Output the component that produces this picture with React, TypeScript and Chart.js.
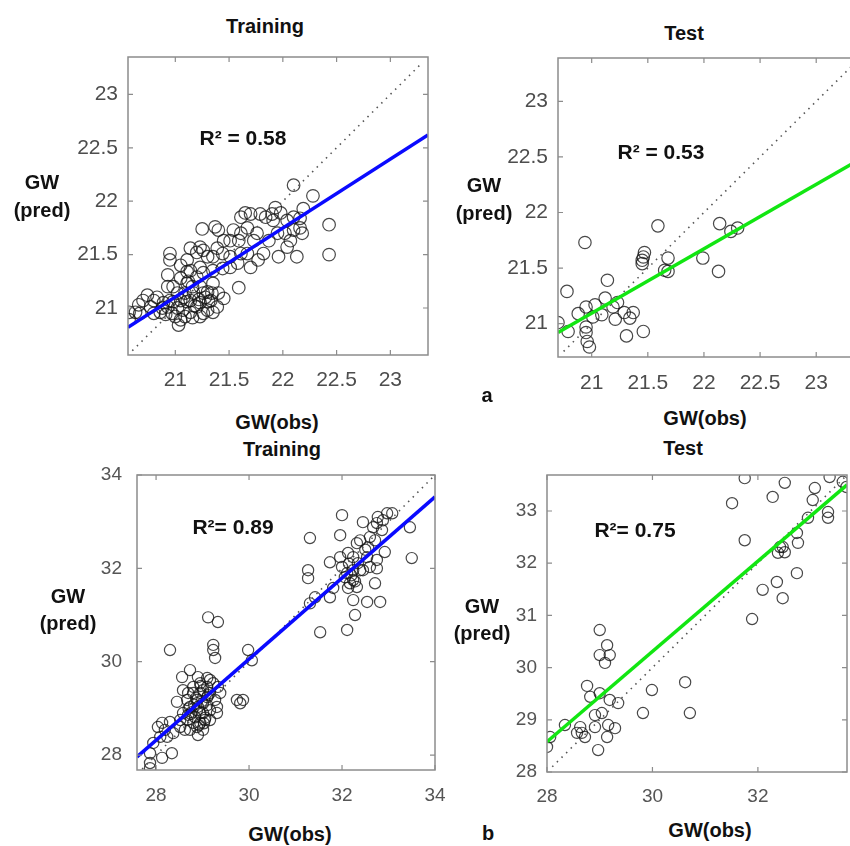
import React, { useEffect, useRef } from "react";
import { Chart, registerables } from "chart.js";

Chart.register(...registerables);

// ---------- Panel a: Training ----------
const P1_OBS = [22.10, 22.28, 22.43, 22.43, 22.19, 22.16, 22.18, 22.13, 22.07, 22.04, 21.96, 21.98, 21.93, 21.90, 21.84, 21.79, 21.76, 21.82, 21.77, 21.70, 21.70, 21.65, 21.67, 21.61, 21.59, 21.54, 21.58, 21.51, 21.59, 21.45, 21.40, 21.39, 21.44, 21.35, 21.37, 21.25, 21.23, 21.20, 21.26, 21.30, 21.14, 21.23, 21.14, 20.95, 20.95, 20.93, 21.05, 21.11, 20.98, 21.35, 21.45, 21.26, 21.17, 21.33, 21.23, 21.30, 21.35, 21.23, 21.14, 21.11, 21.05, 21.07, 21.05, 21.03, 20.97, 20.93, 20.95, 20.89, 20.86, 20.83, 20.80, 20.77, 20.74, 20.70, 20.66, 20.63, 20.57, 20.57, 20.67, 20.80, 20.98, 21.09, 21.16, 21.23, 21.30, 21.34, 21.26, 21.20, 21.11, 21.02, 21.14, 21.20, 21.26, 21.16, 21.09, 21.00, 20.91, 21.31, 21.39, 21.40, 21.51, 21.73, 21.67, 21.87, 21.95, 22.02, 22.10, 22.16, 21.91, 22.04, 22.10, 21.61, 21.51, 21.61, 21.44, 21.35, 21.11, 21.05, 20.93, 21.02, 21.08, 21.18, 21.28, 20.88, 21.12, 21.22];
const P1_PRED = [22.15, 22.05, 21.78, 21.50, 21.93, 21.84, 21.70, 21.48, 21.63, 21.57, 21.48, 21.89, 21.94, 21.88, 21.85, 21.88, 21.70, 21.51, 21.45, 21.38, 21.88, 21.89, 21.75, 21.70, 21.63, 21.73, 21.42, 21.38, 21.19, 21.63, 21.73, 21.56, 21.51, 21.48, 21.76, 21.74, 21.57, 21.52, 21.54, 21.48, 21.56, 21.38, 21.35, 21.51, 21.45, 21.31, 21.28, 21.23, 21.20, 21.23, 21.09, 21.14, 21.14, 21.07, 21.05, 20.98, 20.96, 20.92, 20.96, 21.06, 21.07, 20.98, 20.89, 20.84, 20.95, 21.01, 21.07, 21.05, 20.96, 21.10, 21.07, 21.01, 21.12, 21.07, 21.03, 20.96, 20.96, 20.89, 20.95, 20.95, 21.06, 21.14, 21.20, 21.20, 21.15, 21.14, 21.33, 21.29, 21.34, 21.14, 21.07, 21.01, 20.95, 20.91, 20.92, 20.92, 20.94, 21.06, 21.01, 21.14, 21.63, 21.63, 21.51, 21.63, 21.70, 21.70, 21.73, 21.75, 21.82, 21.82, 21.85, 21.85, 21.48, 21.51, 21.37, 21.35, 21.45, 21.40, 21.20, 21.00, 21.10, 21.02, 21.10, 21.00, 21.25, 21.08];
const P1_FIT_X = [20.56, 23.35];
const P1_FIT_Y = [20.82, 22.62];
const P1_TICKS = [21, 21.5, 22, 22.5, 23];

// ---------- Panel a: Test ----------
const P2_OBS = [20.70, 20.78, 20.79, 20.94, 20.88, 20.95, 20.95, 20.95, 20.96, 20.98, 21.03, 21.01, 21.09, 21.12, 21.14, 21.19, 21.21, 21.23, 21.29, 21.34, 21.37, 21.31, 21.46, 21.45, 21.46, 21.47, 21.45, 21.59, 21.68, 21.65, 21.68, 21.99, 22.13, 22.14, 22.24, 22.30];
const P2_PRED = [21.01, 21.29, 20.93, 21.73, 21.09, 21.15, 20.97, 20.92, 20.84, 20.79, 21.17, 21.06, 21.08, 21.23, 21.39, 21.15, 21.04, 21.19, 21.10, 21.05, 21.10, 20.89, 20.93, 21.54, 21.60, 21.64, 21.57, 21.88, 21.59, 21.48, 21.47, 21.59, 21.47, 21.90, 21.83, 21.86];
const P2_FIT_X = [20.70, 23.39];
const P2_FIT_Y = [20.92, 22.48];
const P2_TICKS = [21, 21.5, 22, 22.5, 23];

// ---------- Panel b: Training ----------
const P3_OBS = [32.00, 31.31, 31.27, 31.27, 31.31, 31.42, 31.53, 31.74, 31.74, 31.96, 31.96, 32.00, 32.06, 32.11, 32.24, 32.28, 32.17, 32.24, 32.13, 32.24, 32.32, 32.39, 32.45, 32.34, 32.45, 32.54, 32.56, 32.60, 32.67, 32.75, 32.77, 32.88, 32.97, 33.08, 32.86, 32.71, 32.92, 32.75, 32.75, 32.71, 32.54, 32.82, 33.46, 33.50, 32.39, 32.24, 32.11, 32.13, 32.32, 31.81, 32.60, 32.20, 32.28, 32.50, 32.15,
  29.12, 29.33, 29.23, 29.23, 29.27, 28.30, 29.98, 30.06, 28.73, 29.74, 29.87, 29.81, 29.38, 28.45, 28.30, 28.13, 28.04, 28.09, 28.24, 27.94, 27.87, 28.13, 28.34, 27.87, 27.87, 28.56, 28.58, 28.69, 28.80, 28.95, 29.10, 29.23, 28.95, 29.10, 28.88, 29.01, 28.73, 28.88, 29.01, 29.16, 28.58, 28.67, 28.80, 28.95, 29.16, 28.73, 28.90, 28.52, 29.31, 29.31, 28.84, 29.05, 28.67, 28.80, 29.01, 29.16, 28.90, 29.10, 28.77, 28.95, 28.69, 28.52, 28.88, 29.01, 28.62, 29.27, 29.33, 28.90, 29.10, 28.37, 28.19, 29.16,
  28.82, 28.98, 29.06, 28.75, 28.92, 29.12, 28.86, 29.03, 28.70, 28.96];
const P3_PRED = [33.14, 32.65, 31.96, 31.79, 31.25, 31.38, 30.63, 31.38, 32.13, 32.71, 32.24, 32.03, 31.81, 30.68, 31.32, 31.00, 31.68, 31.75, 32.33, 32.24, 32.54, 32.60, 32.99, 32.11, 31.96, 32.24, 32.45, 32.67, 32.88, 32.97, 33.10, 33.03, 33.18, 33.18, 32.82, 32.60, 32.35, 32.18, 32.00, 31.68, 31.28, 31.28, 32.88, 32.22, 31.96, 31.96, 31.90, 31.58, 31.60, 31.58, 32.03, 31.85, 31.72, 32.40, 32.10,
  30.95, 30.85, 30.36, 30.25, 30.08, 30.25, 30.25, 30.03, 29.82, 29.18, 29.18, 29.11, 29.33, 29.14, 28.71, 28.69, 28.60, 28.39, 28.39, 28.26, 28.04, 27.94, 28.04, 27.83, 27.72, 29.67, 29.39, 29.33, 29.46, 29.54, 29.46, 29.54, 29.33, 29.24, 29.18, 29.11, 29.03, 28.96, 28.90, 28.96, 28.90, 28.75, 28.69, 28.69, 28.75, 28.54, 28.43, 28.60, 29.03, 28.90, 28.81, 28.75, 29.18, 29.33, 29.39, 29.33, 29.03, 29.07, 28.92, 28.90, 28.86, 28.75, 28.60, 28.54, 28.54, 29.18, 29.46, 29.67, 29.65, 28.47, 28.54, 29.61,
  29.08, 29.15, 28.80, 28.88, 28.64, 29.28, 29.22, 28.68, 29.00, 29.48];
const P3_FIT_X = [27.59, 34.0];
const P3_FIT_Y = [27.96, 33.53];
const P3_TICKS = [28, 30, 32, 34];

// ---------- Panel b: Test ----------
const P4_OBS = [31.75, 32.51, 32.28, 31.51, 31.75, 33.36, 33.61, 33.68, 33.08, 33.04, 32.95, 33.33, 33.33, 32.74, 32.76, 32.42, 32.38, 32.51, 32.47, 32.74, 32.36, 32.09, 32.47, 31.89, 29.00, 29.14, 29.00, 29.19, 29.10, 28.76, 28.82, 29.00, 29.19, 29.35, 29.99, 30.62, 30.71, 29.82, 28.34, 28.63, 28.66, 28.72, 28.91, 29.04, 28.91, 29.16, 29.29, 29.14, 28.97, 28.06, 28.00, 28.57];
const P4_PRED = [33.63, 33.54, 33.27, 33.15, 32.44, 33.65, 33.56, 33.46, 33.44, 33.21, 32.87, 32.98, 32.87, 32.58, 32.39, 32.31, 32.20, 32.21, 32.31, 31.81, 31.64, 31.49, 31.33, 30.93, 30.72, 30.43, 30.24, 30.24, 30.09, 29.65, 29.44, 29.51, 29.38, 29.32, 29.57, 29.72, 29.13, 29.13, 28.90, 28.86, 28.75, 28.67, 29.09, 29.13, 28.86, 28.90, 28.84, 28.67, 28.42, 28.67, 28.48, 28.75];
const P4_FIT_X = [28.0, 33.69];
const P4_FIT_Y = [28.58, 33.50];
const P4_TICKS_X = [28, 30, 32];
const P4_TICKS_Y = [28, 29, 30, 31, 32, 33];

type Spec = {
  obs: number[];
  pred: number[];
  fitX: number[];
  fitY: number[];
  xMin: number; xMax: number; yMin: number; yMax: number;
  idFrom: number; idTo: number;
  xTicks: number[]; yTicks: number[];
  lineColor: string;
  radius: number;
  canvasLeft: number; canvasTop: number; canvasW: number; canvasH: number;
  yAxisW: number; xAxisH: number; padTop: number; padRight: number;
  tickFont: { family: string; size: number };
  tickColor: string;
  xPad: number; yPad: number;
};

const boxPlugin = {
  id: "matlabBox",
  afterDatasetsDraw(chart: any) {
    const { ctx, chartArea } = chart;
    const { left, right, top, bottom } = chartArea;
    const xs = chart.scales.x;
    const ys = chart.scales.y;
    ctx.save();
    ctx.strokeStyle = "#8c8c8c";
    ctx.lineWidth = 1.5;
    ctx.strokeRect(left, top, right - left, bottom - top);
    ctx.lineWidth = 1.2;
    ctx.beginPath();
    for (const t of xs.ticks) {
      const px = xs.getPixelForValue(t.value);
      ctx.moveTo(px, bottom);
      ctx.lineTo(px, bottom - 5);
      ctx.moveTo(px, top);
      ctx.lineTo(px, top + 5);
    }
    for (const t of ys.ticks) {
      const py = ys.getPixelForValue(t.value);
      ctx.moveTo(left, py);
      ctx.lineTo(left + 5, py);
      ctx.moveTo(right, py);
      ctx.lineTo(right - 5, py);
    }
    ctx.stroke();
    ctx.restore();
  },
};

function Panel({ s }: { s: Spec }) {
  const ref = useRef<HTMLCanvasElement>(null);
  useEffect(() => {
    if (!ref.current) return;
    const chart = new Chart(ref.current, {
      type: "scatter",
      data: {
        datasets: [
          {
            data: s.fitX.map((x, i) => ({ x, y: s.fitY[i] })),
            showLine: true,
            borderColor: s.lineColor,
            borderWidth: 3.5,
            pointRadius: 0,
            order: 0,
          } as any,
          {
            data: [
              { x: s.idFrom, y: s.idFrom },
              { x: s.idTo, y: s.idTo },
            ],
            showLine: true,
            borderColor: "#555555",
            borderWidth: 1.6,
            borderDash: [1.5, 5],
            pointRadius: 0,
            order: 1,
          } as any,
          {
            data: s.obs.map((x, i) => ({ x, y: s.pred[i] })),
            pointStyle: "circle",
            pointRadius: s.radius,
            backgroundColor: "rgba(0,0,0,0)",
            borderColor: "rgba(20,20,20,0.78)",
            borderWidth: 1.2,
            order: 2,
          } as any,
        ],
      },
      options: {
        responsive: false,
        animation: false,
        devicePixelRatio: 1,
        layout: { padding: { top: s.padTop, right: s.padRight, left: 0, bottom: 0 } },
        plugins: { legend: { display: false }, tooltip: { enabled: false } },
        scales: {
          x: {
            type: "linear",
            position: "bottom",
            min: s.xMin,
            max: s.xMax,
            grid: { display: false, drawTicks: false },
            border: { display: false },
            ticks: {
              font: s.tickFont,
              color: s.tickColor,
              padding: s.xPad,
              maxRotation: 0,
              autoSkip: false,
              callback: (v: any) => String(v),
            },
            afterBuildTicks: (scale: any) => {
              scale.ticks = s.xTicks.map((v) => ({ value: v }));
            },
            afterFit: (scale: any) => {
              scale.height = s.xAxisH;
              scale.paddingLeft = 0;
              scale.paddingRight = 0;
              scale.paddingTop = 0;
              scale.paddingBottom = 0;
            },
          },
          y: {
            type: "linear",
            position: "left",
            min: s.yMin,
            max: s.yMax,
            grid: { display: false, drawTicks: false },
            border: { display: false },
            ticks: {
              font: s.tickFont,
              color: s.tickColor,
              padding: s.yPad,
              autoSkip: false,
              callback: (v: any) => String(v),
            },
            afterBuildTicks: (scale: any) => {
              scale.ticks = s.yTicks.map((v) => ({ value: v }));
            },
            afterFit: (scale: any) => {
              scale.width = s.yAxisW;
              scale.paddingLeft = 0;
              scale.paddingRight = 0;
              scale.paddingTop = 0;
              scale.paddingBottom = 0;
            },
          },
        },
      } as any,
      plugins: [boxPlugin],
    });
    return () => chart.destroy();
  }, []);
  return (
    <canvas
      ref={ref}
      width={s.canvasW}
      height={s.canvasH}
      style={{ position: "absolute", left: s.canvasLeft, top: s.canvasTop, width: s.canvasW, height: s.canvasH }}
    />
  );
}

const TOP_FONT = { family: "'Liberation Sans', Arial, sans-serif", size: 21 };
const BOT_FONT = { family: "'Liberation Sans Narrow', 'Arial Narrow', 'Liberation Sans', sans-serif", size: 19 };

const SPECS: Spec[] = [
  {
    obs: P1_OBS, pred: P1_PRED, fitX: P1_FIT_X, fitY: P1_FIT_Y,
    xMin: 20.56, xMax: 23.35, yMin: 20.56, yMax: 23.35, idFrom: 20.6, idTo: 23.3,
    xTicks: P1_TICKS, yTicks: P1_TICKS, lineColor: "#0a0aff", radius: 6.3,
    canvasLeft: 58, canvasTop: 45, canvasW: 378, canvasH: 355,
    yAxisW: 70, xAxisH: 45, padTop: 12, padRight: 8,
    tickFont: TOP_FONT, tickColor: "#4d4d4d", xPad: 13, yPad: 10,
  },
  {
    obs: P2_OBS, pred: P2_PRED, fitX: P2_FIT_X, fitY: P2_FIT_Y,
    xMin: 20.7, xMax: 23.39, yMin: 20.7, yMax: 23.39, idFrom: 20.75, idTo: 23.35,
    xTicks: P2_TICKS, yTicks: P2_TICKS, lineColor: "#12e612", radius: 6.2,
    canvasLeft: 496, canvasTop: 46, canvasW: 372, canvasH: 356,
    yAxisW: 62, xAxisH: 45, padTop: 12, padRight: 8,
    tickFont: TOP_FONT, tickColor: "#4d4d4d", xPad: 14, yPad: 10,
  },
  {
    obs: P3_OBS, pred: P3_PRED, fitX: P3_FIT_X, fitY: P3_FIT_Y,
    xMin: 27.59, xMax: 34, yMin: 27.68, yMax: 34, idFrom: 27.7, idTo: 33.97,
    xTicks: P3_TICKS, yTicks: P3_TICKS, lineColor: "#0a0aff", radius: 5.6,
    canvasLeft: 77, canvasTop: 461, canvasW: 370, canvasH: 354,
    yAxisW: 60, xAxisH: 45, padTop: 14, padRight: 12,
    tickFont: BOT_FONT, tickColor: "#555555", xPad: 14, yPad: 15,
  },
  {
    obs: P4_OBS, pred: P4_PRED, fitX: P4_FIT_X, fitY: P4_FIT_Y,
    xMin: 28, xMax: 33.69, yMin: 28, yMax: 33.69, idFrom: 28.1, idTo: 33.65,
    xTicks: P4_TICKS_X, yTicks: P4_TICKS_Y, lineColor: "#12e612", radius: 5.6,
    canvasLeft: 492, canvasTop: 461, canvasW: 363, canvasH: 356,
    yAxisW: 55, xAxisH: 45, padTop: 14, padRight: 8,
    tickFont: BOT_FONT, tickColor: "#555555", xPad: 13, yPad: 10,
  },
];

type Label = { text: string; x: number; y: number; size?: number; lh?: number };

const LABELS: Label[] = [
  { text: "Training", x: 265, y: 26 },
  { text: "Test", x: 684, y: 33 },
  { text: "GW\n(pred)", x: 42, y: 196, lh: 28 },
  { text: "GW\n(pred)", x: 484, y: 199, lh: 28 },
  { text: "a", x: 487, y: 395 },
  { text: "GW(obs)", x: 277, y: 422 },
  { text: "GW(obs)", x: 705, y: 418 },
  { text: "Training", x: 282, y: 449 },
  { text: "Test", x: 683, y: 448 },
  { text: "GW\n(pred)", x: 68, y: 610, lh: 27 },
  { text: "GW\n(pred)", x: 482, y: 620, lh: 27 },
  { text: "GW(obs)", x: 290, y: 834 },
  { text: "GW(obs)", x: 710, y: 830 },
  { text: "b", x: 488, y: 833 },
  { text: "R² = 0.58", x: 243, y: 138, size: 21 },
  { text: "R² = 0.53", x: 661, y: 152, size: 21 },
  { text: "R²= 0.89", x: 233, y: 527, size: 21 },
  { text: "R²= 0.75", x: 635, y: 530, size: 21 },
];

export default function App() {
  return (
    <div
      style={{
        position: "fixed",
        left: 0,
        top: 0,
        width: 850,
        height: 846,
        overflow: "hidden",
        background: "#ffffff",
      }}
    >
      {SPECS.map((s, i) => (
        <Panel key={i} s={s} />
      ))}
      {LABELS.map((l, i) => (
        <div
          key={"l" + i}
          style={{
            position: "absolute",
            left: l.x,
            top: l.y,
            transform: "translate(-50%, -50%)",
            fontFamily: "'Liberation Sans', Arial, sans-serif",
            fontWeight: "bold",
            fontSize: l.size ?? 20,
            lineHeight: (l.lh ?? 24) + "px",
            color: "#111",
            whiteSpace: "pre",
            textAlign: "center",
          }}
        >
          {l.text}
        </div>
      ))}
    </div>
  );
}
